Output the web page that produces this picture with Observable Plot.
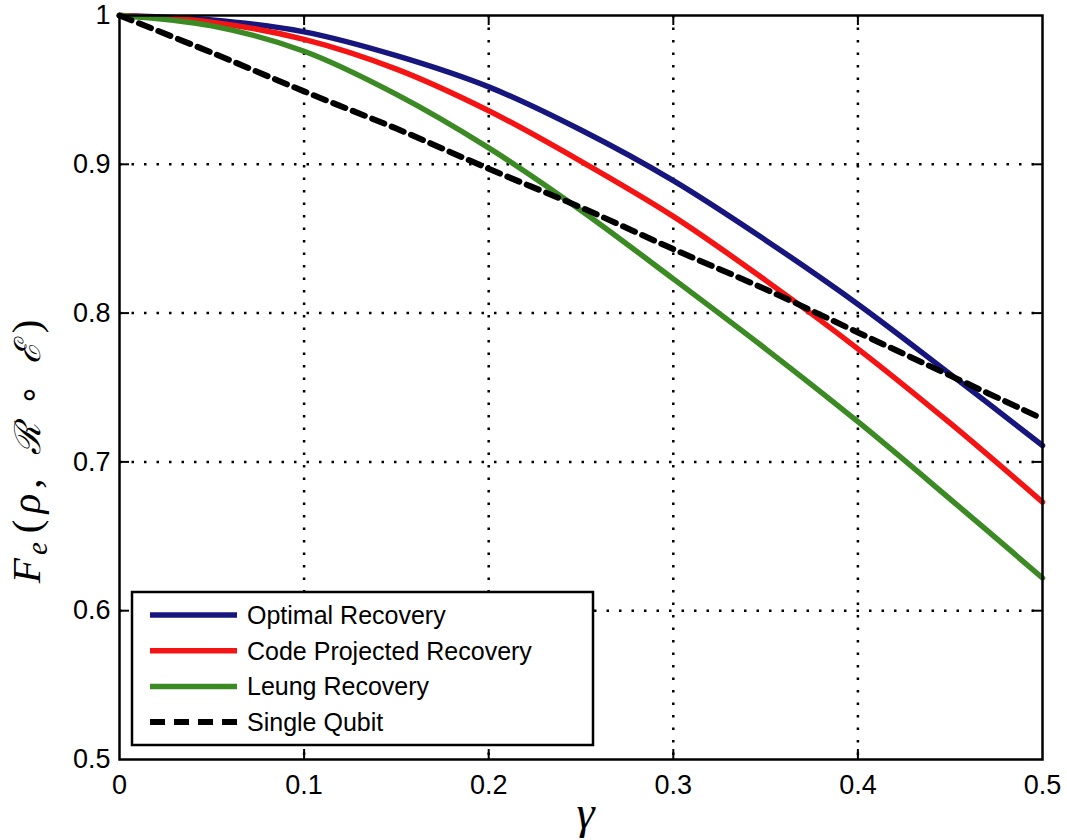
<!DOCTYPE html>
<html><head><meta charset="utf-8">
<script src="https://cdn.jsdelivr.net/npm/d3@7"></script>
<script src="https://cdn.jsdelivr.net/npm/@observablehq/plot@0.6"></script>
<style>
body{margin:0;background:#fff;}
#chart{position:relative;width:1067px;height:840px;}
</style>
</head><body><div id="chart"></div>
<script>
// ---- data ----
const gamma = [0, 0.05, 0.1, 0.15, 0.2, 0.25, 0.3, 0.35, 0.4, 0.45, 0.5];
const optimalRecovery = [1, 0.997, 0.989, 0.973, 0.952, 0.923, 0.889, 0.849, 0.806, 0.759, 0.711];
const codeProjectedRecovery = [1, 0.9955, 0.984, 0.964, 0.936, 0.902, 0.865, 0.822, 0.776, 0.726, 0.673];
const leungRecovery = [1, 0.993, 0.976, 0.947, 0.911, 0.869, 0.823, 0.776, 0.727, 0.675, 0.622];
const singleQubit = [1, 0.975, 0.949, 0.924, 0.897, 0.871, 0.843, 0.816, 0.787, 0.758, 0.729];
const seriesNames = ["Optimal Recovery", "Code Projected Recovery", "Leung Recovery", "Single Qubit"];
const seriesColors = ["#16167e", "#f41414", "#3b8a24", "#000000"];
const xTicks = [0, 0.1, 0.2, 0.3, 0.4, 0.5];
const xTickLabels = ["0", "0.1", "0.2", "0.3", "0.4", "0.5"];
const yTicks = [0.5, 0.6, 0.7, 0.8, 0.9, 1];
const yTickLabels = ["0.5", "0.6", "0.7", "0.8", "0.9", "1"];

// ---- layout ----
const W = 1067, H = 840, mL = 119, mR = 25, mT = 15, mB = 81;
const innerW = W - mL - mR, innerH = H - mT - mB;
const tickLen = 10;

const seriesValues = [optimalRecovery, codeProjectedRecovery, leungRecovery, singleQubit];
const rows = [];
seriesNames.forEach((name, k) => gamma.forEach((g, i) => rows.push({series: name, gamma: g, value: seriesValues[k][i]})));
const solidRows = rows.filter(r => r.series !== "Single Qubit");
const dashedRows = rows.filter(r => r.series === "Single Qubit");

const xLab = new Map(xTicks.map((t, i) => [t, xTickLabels[i]]));
const yLab = new Map(yTicks.map((t, i) => [t, yTickLabels[i]]));
const xInner = xTicks.slice(1, -1), yInner = yTicks.slice(1, -1);
const dotted = {stroke: "#000", strokeOpacity: 1, strokeWidth: 2.5, strokeDasharray: "2.5,10"};

const chart = Plot.plot({
  width: W, height: H, marginLeft: mL, marginRight: mR, marginTop: mT, marginBottom: mB,
  style: {fontFamily: "'Liberation Sans', Arial, sans-serif", fontSize: "27px", color: "#000", background: "#fff"},
  x: {domain: [0, 0.5], label: null},
  y: {domain: [0.5, 1], label: null},
  color: {domain: seriesNames, range: seriesColors},
  marks: [
    Plot.gridX(xInner, dotted),
    Plot.gridY(yInner, dotted),
    Plot.ruleX(xInner, {stroke: "#000", strokeWidth: 2, insetTop: innerH - tickLen}),
    Plot.ruleX(xInner, {stroke: "#000", strokeWidth: 2, insetBottom: innerH - tickLen}),
    Plot.ruleY(yInner, {stroke: "#000", strokeWidth: 2, insetRight: innerW - tickLen}),
    Plot.ruleY(yInner, {stroke: "#000", strokeWidth: 2, insetLeft: innerW - tickLen}),
    Plot.line(solidRows, {x: "gamma", y: "value", z: "series", stroke: "series", strokeWidth: 5.5, curve: "catmull-rom"}),
    Plot.line(dashedRows, {x: "gamma", y: "value", stroke: "series", strokeWidth: 6, strokeDasharray: "13,8", curve: "catmull-rom"}),
    Plot.axisX(xTicks, {tickSize: 0, tickPadding: 15, fontSize: 27, tickFormat: d => xLab.get(d), label: null}),
    Plot.axisY(yTicks, {tickSize: 0, tickPadding: 9, fontSize: 27, tickFormat: d => yLab.get(d), label: null}),
    Plot.frame({stroke: "#000", strokeWidth: 2.5})
  ]
});
document.getElementById("chart").appendChild(chart);

const svg = d3.select(chart);
svg.selectAll("g[aria-label*='tick label']").attr("font-size", 27);
svg.selectAll("g[aria-label*='tick label'] text").attr("font-size", 27).style("font-size", "27px");

const xs = chart.scale("x"), ys = chart.scale("y");

// x label
svg.append("text")
  .attr("x", xs.apply(0.25) + 5).attr("y", H - 12)
  .attr("text-anchor", "middle")
  .attr("font-family", "'Liberation Serif', 'DejaVu Serif', serif")
  .attr("font-style", "italic")
  .style("font-size", "46px")
  .attr("fill", "#000")
  .text("γ");

// y label
const yl = svg.append("text")
  .attr("transform", `translate(${mL - 79},${ys.apply(0.7) - 10}) rotate(-90)`)
  .attr("text-anchor", "middle")
  .attr("font-family", "'Liberation Serif', 'DejaVu Serif', serif")
  .style("font-size", "41px")
  .attr("fill", "#000");
yl.append("tspan").attr("font-style", "italic").text("F");
yl.append("tspan").attr("font-style", "italic").style("font-size", "29px").attr("dx", 3).attr("dy", 7).text("e");
yl.append("tspan").attr("dy", -7).attr("dx", 9).text("(");
yl.append("tspan").attr("dx", 6).attr("font-style", "italic").text("ρ");
yl.append("tspan").attr("dx", 5).text(",");
yl.append("tspan").attr("dx", 24).attr("font-family", "'DejaVu Serif', serif").attr("font-style", "italic").style("font-size", "36px").text("ℛ");
yl.append("tspan").attr("dx", 18).attr("font-family", "'DejaVu Sans', sans-serif").style("font-size", "34px").text("∘");
yl.append("tspan").attr("dx", 20).attr("font-family", "'DejaVu Serif', serif").attr("font-style", "italic").style("font-size", "36px").text("ℰ");
yl.append("tspan").attr("dx", 9).text(")");

// legend
const lgX = mL + 13, lgW = 461, lgH = 153, lgY = H - mB - 14 - lgH;
const lg = svg.append("g");
lg.append("rect").attr("x", lgX).attr("y", lgY).attr("width", lgW).attr("height", lgH)
  .attr("fill", "#fff").attr("stroke", "#000").attr("stroke-width", 2.5);
seriesNames.forEach((name, i) => {
  const cy = lgY + 23 + i * 35.7;
  const dashed = name === "Single Qubit";
  lg.append("line").attr("x1", lgX + 18).attr("x2", lgX + 105).attr("y1", cy).attr("y2", cy)
    .attr("stroke", seriesColors[i]).attr("stroke-width", dashed ? 6 : 5.5)
    .attr("stroke-dasharray", dashed ? "15,9" : null);
  lg.append("text").attr("x", lgX + 115).attr("y", cy).attr("dy", "0.36em")
    .attr("text-anchor", "start")
    .attr("font-family", "'Liberation Sans', Arial, sans-serif").style("font-size", "25px")
    .attr("fill", "#000").text(name);
});
</script>
</body></html>
